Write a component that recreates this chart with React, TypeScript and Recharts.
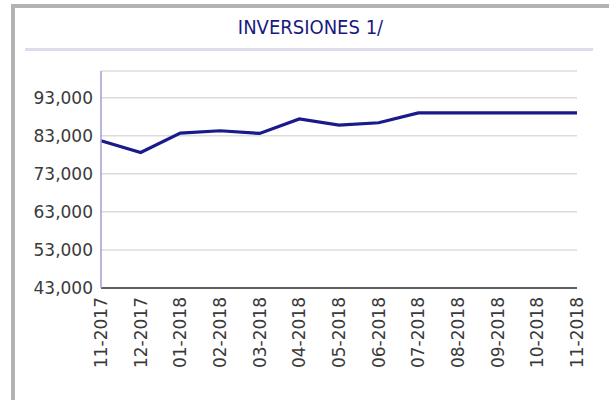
import { LineChart, Line, XAxis, YAxis, CartesianGrid } from 'recharts';

const meses = [
  '11-2017', '12-2017', '01-2018', '02-2018', '03-2018', '04-2018', '05-2018',
  '06-2018', '07-2018', '08-2018', '09-2018', '10-2018', '11-2018',
];
const inversiones = [
  81700, 78600, 83700, 84300, 83600, 87400, 85800,
  86400, 89000, 89000, 89000, 89000, 89000,
];
const yTicks = [43000, 53000, 63000, 73000, 83000, 93000];

const chartData = meses.map((mes, i) => ({ mes, valor: inversiones[i] }));

const fmt = (v: number) => v.toLocaleString('en-US');

const MesTick = ({ x, y, payload }: any) => (
  <g transform={`translate(${x},${y + 1})`}>
    <text
      transform="rotate(-90)"
      textAnchor="end"
      dy="0.36em"
      fontFamily="DejaVu Sans"
      fontSize={17}
      fill="#3a3a3a"
    >
      {payload.value}
    </text>
  </g>
);

const App = () => {
  return (
    <div style={{ position: 'absolute', left: 0, top: 0, width: 609, height: 400, background: '#fff', overflow: 'hidden' }}>
      {/* marco gris */}
      <div style={{ position: 'absolute', left: 11, top: 4, width: 598, height: 4, background: '#b3b3b3' }} />
      <div style={{ position: 'absolute', left: 11, top: 4, width: 4, height: 396, background: '#b3b3b3' }} />

      <div
        style={{
          position: 'absolute', left: 0, top: 15, width: 621, textAlign: 'center',
          fontFamily: '"DejaVu Sans Condensed", "DejaVu Sans"', fontSize: 20, color: '#1a1a7c', lineHeight: '24px',
        }}
      >
        INVERSIONES 1/
      </div>
      <div style={{ position: 'absolute', left: 25, top: 48, width: 568, height: 3, background: '#dcdcea' }} />

      <div style={{ position: 'absolute', left: 0, top: 0 }}>
        <LineChart
          width={609}
          height={400}
          data={chartData}
          margin={{ top: 71, right: 32, left: 0, bottom: 0 }}
        >
          <CartesianGrid vertical={false} stroke="#dcdcdc" strokeWidth={1.5} />
          <XAxis
            dataKey="mes"
            interval={0}
            height={112}
            tickLine={false}
            axisLine={{ stroke: '#333', strokeWidth: 1.5 }}
            tick={<MesTick />}
          />
          <YAxis
            width={101}
            domain={[43000, 100000]}
            ticks={yTicks}
            tickFormatter={fmt}
            tickLine={false}
            axisLine={{ stroke: '#a0a0d0', strokeWidth: 1.5 }}
            tick={{ fontFamily: 'DejaVu Sans', fontSize: 17, fill: '#3a3a3a' }}
          />
          <Line
            type="linear"
            dataKey="valor"
            stroke="#1a1a8a"
            strokeWidth={3.2}
            dot={false}
            isAnimationActive={false}
          />
        </LineChart>
      </div>
    </div>
  );
};

export default App;
